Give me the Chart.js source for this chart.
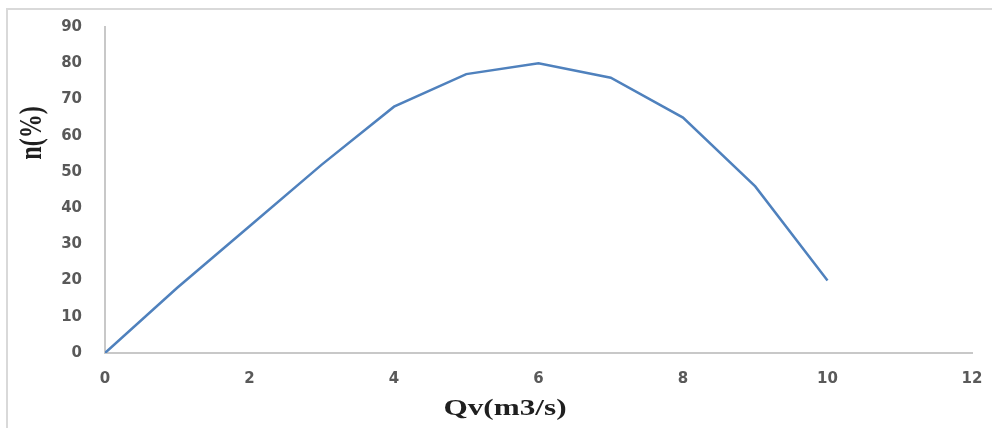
<!DOCTYPE html>
<html>
<head>
<meta charset="utf-8">
<script src="https://cdn.jsdelivr.net/npm/chart.js@4/dist/chart.umd.min.js"></script>
<style>
    html, body { margin: 0; padding: 0; background: #fff; overflow: hidden; }
</style>
</head>
<body>
<canvas id="graphCurve" width="992" height="428"></canvas>
<script>
const flowRate = [0, 1, 2, 3, 4, 5, 6, 7, 8, 9, 10];
const efficiency = [0, 18, 35, 52, 68, 77, 80, 76, 65, 46, 20];
const xTitle = 'Qv(m3/s)';
const yTitle = 'n(%)';

const points = flowRate.map((q, i) => ({x: q, y: efficiency[i]}));

// light frame of the chart box (only its top and left edges are in the picture)
const chartFrame = {
    id: 'chartFrame',
    beforeDraw(chart) {
        const ctx = chart.ctx;
        ctx.save();
        ctx.strokeStyle = '#d9d9d9';
        ctx.lineWidth = 2;
        ctx.beginPath();
        ctx.moveTo(7, chart.height);
        ctx.lineTo(7, 9);
        ctx.lineTo(chart.width, 9);
        ctx.stroke();
        ctx.restore();
    }
};

// titles drawn by hand: the picture is stretched sideways and the titles sit off-centre
const axisTitles = {
    id: 'axisTitles',
    afterDraw(chart) {
        const ctx = chart.ctx;
        ctx.save();
        ctx.fillStyle = '#1f1f1f';
        ctx.font = 'bold 24px "Liberation Serif"';
        ctx.textAlign = 'center';
        ctx.textBaseline = 'alphabetic';

        ctx.save();
        ctx.translate(505, 415);
        ctx.scale(1.3, 1);
        ctx.fillText(xTitle, 0, 0);
        ctx.restore();

        ctx.save();
        ctx.translate(41, 133);
        ctx.rotate(-Math.PI / 2);
        ctx.scale(1, 1.3);
        ctx.fillText(yTitle, 0, 0);
        ctx.restore();

        ctx.restore();
    }
};

const $grafica = document.querySelector('#graphCurve');
new Chart($grafica, {
    type: 'line',
    data: {
        datasets: [{
            data: points,
            borderColor: '#4f81bd',
            borderWidth: 2.5,
            fill: false,
            tension: 0
        }]
    },
    options: {
        responsive: false,
        animation: false,
        layout: {
            padding: {left: 0, top: 27, right: 20, bottom: 0}
        },
        plugins: {
            legend: {display: false},
            tooltip: {enabled: false}
        },
        elements: {
            point: {radius: 0}
        },
        scales: {
            x: {
                type: 'linear',
                min: 0,
                max: 12,
                afterFit: function (scale) {
                    scale.height = 75;
                    scale.paddingLeft = 0;
                    scale.paddingRight = 0;
                },
                grid: {display: false, drawTicks: false},
                border: {display: true, color: '#c8c8c8', width: 2},
                ticks: {
                    stepSize: 2,
                    padding: 17,
                    color: '#595959',
                    font: {family: 'DejaVu Sans', size: 15, weight: 'bold'}
                }
            },
            y: {
                min: 0,
                max: 90,
                afterFit: function (scale) {
                    scale.width = 105;
                    scale.paddingTop = 0;
                    scale.paddingBottom = 0;
                },
                grid: {display: false, drawTicks: false},
                border: {display: true, color: '#c8c8c8', width: 2},
                ticks: {
                    stepSize: 10,
                    padding: 23,
                    color: '#595959',
                    font: {family: 'DejaVu Sans', size: 15, weight: 'bold'}
                }
            }
        }
    },
    plugins: [chartFrame, axisTitles]
});
</script>
</body>
</html>
